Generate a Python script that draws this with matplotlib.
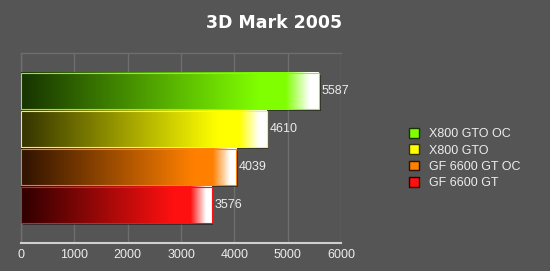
import matplotlib
matplotlib.use("Agg")
import matplotlib.pyplot as plt
import numpy as np
from matplotlib.colors import LinearSegmentedColormap
from matplotlib.patches import Rectangle, Patch

categories = ["X800 GTO OC", "X800 GTO", "GF 6600 GT OC", "GF 6600 GT"]
values = [5587, 4610, 4039, 3576]
base_colors = ["#80ff00", "#ffff00", "#ff8000", "#ff1010"]
dark_colors = ["#163300", "#333300", "#2e1200", "#2e0000"]
xticks = [0, 1000, 2000, 3000, 4000, 5000, 6000]
title = "3D Mark 2005"

BG = "#555555"
GRID = "#6e6e6e"
TXT = "#ececec"
plt.rcParams["font.family"] = ["Liberation Sans", "DejaVu Sans"]

fig = plt.figure(figsize=(5.50, 2.71), dpi=100)
fig.patch.set_facecolor(BG)
ax = fig.add_axes([21/550, 28/271, 320/550, 190/271])
ax.set_facecolor(BG)

h = 0.95
for i, (v, bc, dc) in enumerate(zip(values, base_colors, dark_colors)):
    cmap = LinearSegmentedColormap.from_list(
        "g%d" % i,
        [(0.0, dc), (0.8, bc), (0.89, bc), (0.97, "#ffffff"), (1.0, "#ffffff")])
    grad = np.linspace(0, 1, 256).reshape(1, -1)
    # shadow
    ax.add_patch(Rectangle((30, i - h/2 + 0.06), v, h, facecolor="black",
                           alpha=0.45, edgecolor="none", zorder=2))
    ax.imshow(grad, cmap=cmap, aspect="auto", extent=(0, v, i + h/2, i - h/2),
              zorder=3, interpolation="bilinear")
    ax.add_patch(Rectangle((0, i - h/2), v, h, facecolor="none",
                           edgecolor=bc, lw=0.8, zorder=4))
    ax.text(v + 45, i, str(v), color=TXT, fontsize=9, va="center", ha="left", zorder=5)

ax.set_xlim(0, 6000)
ax.set_ylim(4, -1)
ax.set_xticks(xticks)
ax.set_xticklabels([str(t) for t in xticks])
ax.set_yticks([])
ax.tick_params(axis="x", length=0, colors=TXT, labelsize=9, pad=4)
ax.grid(axis="x", color=GRID, lw=1, zorder=0)
ax.set_axisbelow(True)
for s in ["top", "left", "right"]:
    ax.spines[s].set_color(GRID)
    ax.spines[s].set_linewidth(1)
ax.spines["right"].set_visible(False)
ax.spines["bottom"].set_color("#cfcfcf")
ax.spines["bottom"].set_linewidth(1.5)

fig.text(274/550, 1 - 23/271, title, ha="center", va="center",
         fontsize=12.5, fontweight="bold", color="#ffffff",
         family=["DejaVu Sans"])

handles = [Patch(facecolor=bc, edgecolor=dc, lw=1) for bc, dc in zip(base_colors, dark_colors)]
leg = fig.legend(handles, categories, loc="upper left",
                 bbox_to_anchor=(398/550, 1 - 117/271), frameon=False,
                 fontsize=9, handlelength=0.8, handleheight=0.8,
                 handletextpad=0.8, labelspacing=0.33)
for t in leg.get_texts():
    t.set_color(TXT)

fig.savefig("out.png", dpi=100, facecolor=BG)
